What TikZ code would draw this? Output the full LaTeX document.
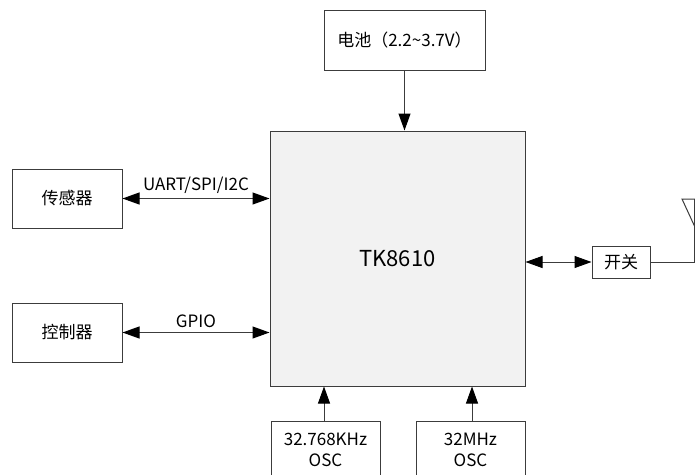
\documentclass[tikz,border=0pt]{standalone}
\usepackage{fontspec}
\setmainfont{Noto Sans CJK SC}
\usetikzlibrary{positioning,arrows.meta}
\definecolor{chipgray}{RGB}{242,242,242}
\definecolor{edgegray}{RGB}{60,60,60}
\tikzset{
  blk/.style ={draw=edgegray,fill=white,line width=1pt,align=center,font=\fontsize{17}{21}\selectfont,inner sep=2pt},
  tip/.tip   ={Triangle[length=17pt,width=12pt,fill=black,color=black]},
  ar/.style  ={-tip,draw=edgegray,line width=1pt},
  dar/.style ={tip-tip,draw=edgegray,line width=1pt},
  lbl/.style ={font=\fontsize{17}{20}\selectfont,inner sep=1pt},
}
\begin{document}
\begin{tikzpicture}[x=1pt,y=1pt]
\useasboundingbox (0,0) rectangle (695,-474);
\node[blk,fill=chipgray,minimum width=255pt,minimum height=255pt,font=\fontsize{22}{26}\selectfont] (chip) at (397.5,-258.5) {TK8610};
\node[blk,minimum width=161pt,minimum height=60pt,above=60pt of chip,xshift=7pt] (bat) {电池（2.2\textasciitilde3.7V）};
\node[blk,minimum width=110pt,minimum height=59pt,left=147pt of chip,yshift=60pt] (sensor) {传感器};
\node[blk,minimum width=110pt,minimum height=59pt,below=74pt of sensor] (ctrl) {控制器};
\node[blk,minimum width=58pt,minimum height=32pt,right=66pt of chip,yshift=-3.5pt] (sw) {开关};
\node[blk,minimum width=109pt,minimum height=58pt,below right=34pt and 1pt of chip.south west] (osclo) {32.768KHz\\OSC};
\node[blk,minimum width=109pt,minimum height=58pt,below left=34pt and 0pt of chip.south east] (oschi) {32MHz\\OSC};
\coordinate (ant) at (694,-199);
\draw[ar] (bat) -- (bat |- chip.north);
\draw[dar] (sensor.east) -- (sensor.east -| chip.west) node[lbl,midway,above=3pt] {UART/SPI/I2C};
\draw[dar] (ctrl.east) -- (ctrl.east -| chip.west) node[lbl,midway,above=3pt] {GPIO};
\draw[dar] (sw.west -| chip.east) -- (sw.west);
\draw[ar] ([xshift=-1.5pt]osclo.north) -- ([xshift=-1.5pt]osclo.north |- chip.south);
\draw[ar] ([xshift=1.5pt]oschi.north) -- ([xshift=1.5pt]oschi.north |- chip.south);
\draw[edgegray,line width=1pt] (sw.east) -| (ant);
\draw[edgegray,line width=1pt] ([xshift=-12pt]ant) -- ([xshift=12pt]ant) -- ([yshift=-26pt]ant) -- cycle;
\end{tikzpicture}
\end{document}
